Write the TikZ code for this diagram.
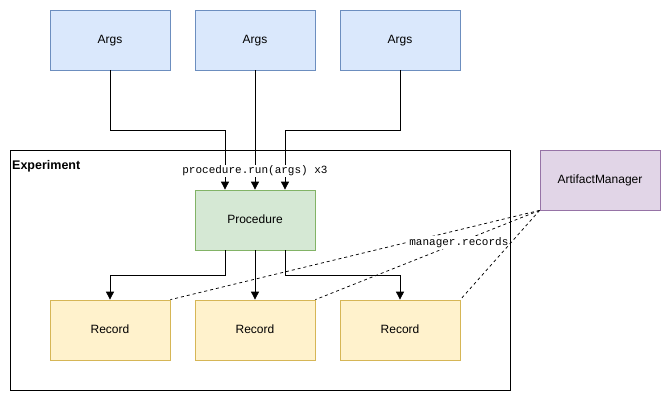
\documentclass[tikz,border=0pt]{standalone}
\usepackage{fontspec}
\setmainfont{Liberation Sans}
\newfontfamily\monofont{Liberation Mono}
\usetikzlibrary{arrows.meta}
\definecolor{bfill}{HTML}{DAE8FC}\definecolor{bline}{HTML}{6C8EBF}
\definecolor{gfill}{HTML}{D5E8D4}\definecolor{gline}{HTML}{82B366}
\definecolor{yfill}{HTML}{FFF2CC}\definecolor{yline}{HTML}{D6B656}
\definecolor{pfill}{HTML}{E1D5E7}\definecolor{pline}{HTML}{9673A6}
\begin{document}
\begin{tikzpicture}[x=1pt,y=-1pt,
  box/.style={minimum width=120pt,minimum height=60pt,inner sep=0pt,line width=0.75pt,font=\fontsize{12}{14}\selectfont,text depth=0pt,text height=7pt},
  argbox/.style={box,draw=bline,fill=bfill},
  procbox/.style={box,draw=gline,fill=gfill},
  recbox/.style={box,draw=yline,fill=yfill},
  mgrbox/.style={box,draw=pline,fill=pfill},
  flow/.style={line width=0.75pt,-{Triangle[length=8pt,width=8pt]}},
  dlink/.style={line width=0.75pt,dash pattern=on 3pt off 3pt},
  mono/.style={font=\monofont\fontsize{11}{13}\selectfont,fill=white,inner sep=1pt}]
\useasboundingbox (0,0) rectangle (671,401);
\node[draw,line width=0.75pt,minimum width=500pt,minimum height=240pt,inner sep=0pt,anchor=north west] (exp) at (10,150) {};
\node[anchor=north west,font=\bfseries\fontsize{12.5}{14}\selectfont,inner sep=0pt] (exptitle) at (12,160) {Experiment};
\node[argbox] (a1) at (110,40) {Args};
\node[argbox] (a2) at (255,40) {Args};
\node[argbox] (a3) at (400,40) {Args};
\node[procbox] (proc) at (255,220) {Procedure};
\node[recbox] (r1) at (110,330) {Record};
\node[recbox] (r2) at (255,330) {Record};
\node[recbox] (r3) at (400,330) {Record};
\node[mgrbox] (mgr) at (600,180) {ArtifactManager};
\draw[flow] (a1.south) |- (225,130) -- ([xshift=-30pt]proc.north);
\draw[flow] (a2.south) -- (proc.north);
\draw[flow] (a3.south) |- (285,130) -- ([xshift=30pt]proc.north);
\node[mono] (runlbl) at (255,171) {procedure.run(args) x3};
\draw[flow] ([xshift=-30pt]proc.south) |- (110,275) -- (r1.north);
\draw[flow] (proc.south) -- (r2.north);
\draw[flow] ([xshift=30pt]proc.south) |- (400,275) -- (r3.north);
\draw[dlink] (mgr.south west) -- (r1.north east);
\draw[dlink] (mgr.south west) -- (r2.north east) node[mono,pos=0.36] (mgrlbl) {manager.records};
\draw[dlink] (mgr.south west) -- (r3.north east);
\end{tikzpicture}
\end{document}
